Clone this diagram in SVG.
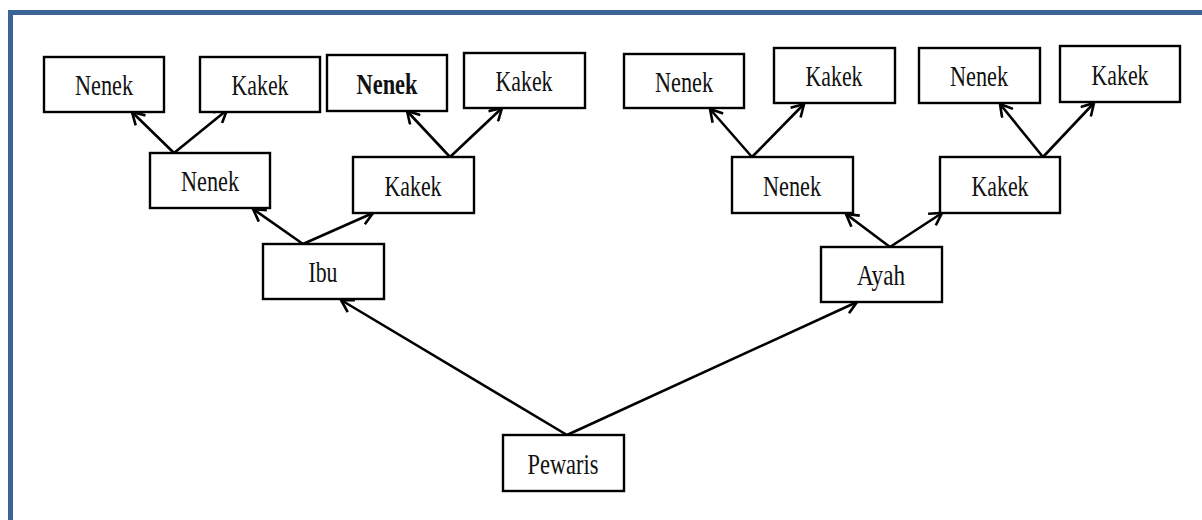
<svg xmlns="http://www.w3.org/2000/svg" width="1202" height="520" viewBox="0 0 1202 520">
<style>
.box{fill:#fff;stroke:#000;stroke-width:2.4}
.lbl{font-family:"Liberation Serif","Times New Roman",serif;font-size:30px;fill:#111;text-anchor:middle}
.b{font-weight:bold}
.con{stroke:#000;stroke-width:2.6;fill:none;marker-end:url(#arr)}
</style>
<defs>
<marker id="arr" viewBox="0 0 16 16" refX="14" refY="8" markerWidth="16" markerHeight="16" markerUnits="userSpaceOnUse" orient="auto">
<path d="M2,1 L14,8 L2,15" fill="none" stroke="#000" stroke-width="2.6"/>
</marker>
</defs>
<rect width="1202" height="520" fill="#fff"/>
<path d="M10.5,520 L10.5,12.5 L1202,12.5" fill="none" stroke="#3A6496" stroke-width="5"/>
<g id="connectors">
<line class="con" x1="174" y1="153" x2="132" y2="112"/>
<line class="con" x1="174" y1="153" x2="227" y2="110"/>
<line class="con" x1="450" y1="157" x2="407" y2="111"/>
<line class="con" x1="450" y1="157" x2="502" y2="108"/>
<line class="con" x1="752" y1="157" x2="710" y2="109"/>
<line class="con" x1="752" y1="157" x2="804" y2="104"/>
<line class="con" x1="1043" y1="157" x2="1000" y2="104"/>
<line class="con" x1="1043" y1="157" x2="1094" y2="103"/>
<line class="con" x1="303" y1="244" x2="253" y2="209"/>
<line class="con" x1="303" y1="244" x2="373" y2="213"/>
<line class="con" x1="890" y1="247" x2="846" y2="214"/>
<line class="con" x1="890" y1="247" x2="942" y2="213"/>
<line class="con" x1="567" y1="435" x2="341" y2="300"/>
<line class="con" x1="567" y1="435" x2="857" y2="302"/>
</g>
<g id="nenek1"><rect class="box" x="44" y="57" width="120" height="55"/><text class="lbl" x="104" y="95" textLength="58" lengthAdjust="spacingAndGlyphs">Nenek</text></g>
<g id="kakek1"><rect class="box" x="200" y="57" width="120" height="55"/><text class="lbl" x="260" y="95" textLength="57" lengthAdjust="spacingAndGlyphs">Kakek</text></g>
<g id="nenek2"><rect class="box" x="327" y="55" width="120" height="56"/><text class="lbl b" x="387" y="93.5" textLength="61" lengthAdjust="spacingAndGlyphs">Nenek</text></g>
<g id="kakek2"><rect class="box" x="464" y="53" width="121" height="55"/><text class="lbl" x="524" y="91" textLength="57" lengthAdjust="spacingAndGlyphs">Kakek</text></g>
<g id="nenek3"><rect class="box" x="624" y="54" width="120" height="54"/><text class="lbl" x="684" y="91.5" textLength="58" lengthAdjust="spacingAndGlyphs">Nenek</text></g>
<g id="kakek3"><rect class="box" x="774" y="48" width="121" height="55"/><text class="lbl" x="834" y="86" textLength="57" lengthAdjust="spacingAndGlyphs">Kakek</text></g>
<g id="nenek4"><rect class="box" x="919" y="48" width="121" height="55"/><text class="lbl" x="979" y="86" textLength="58" lengthAdjust="spacingAndGlyphs">Nenek</text></g>
<g id="kakek4"><rect class="box" x="1060" y="46" width="120" height="56"/><text class="lbl" x="1120" y="84.5" textLength="57" lengthAdjust="spacingAndGlyphs">Kakek</text></g>
<g id="nenekL"><rect class="box" x="150" y="153" width="120" height="55"/><text class="lbl" x="210" y="191" textLength="58" lengthAdjust="spacingAndGlyphs">Nenek</text></g>
<g id="kakekL"><rect class="box" x="353" y="157" width="121" height="56"/><text class="lbl" x="413" y="195.5" textLength="57" lengthAdjust="spacingAndGlyphs">Kakek</text></g>
<g id="nenekR"><rect class="box" x="732" y="157" width="121" height="56"/><text class="lbl" x="792" y="195.5" textLength="58" lengthAdjust="spacingAndGlyphs">Nenek</text></g>
<g id="kakekR"><rect class="box" x="940" y="157" width="120" height="56"/><text class="lbl" x="1000" y="195.5" textLength="57" lengthAdjust="spacingAndGlyphs">Kakek</text></g>
<g id="ibu"><rect class="box" x="263" y="244" width="121" height="55"/><text class="lbl" x="323" y="282" textLength="29" lengthAdjust="spacingAndGlyphs">Ibu</text></g>
<g id="ayah"><rect class="box" x="821" y="247" width="121" height="55"/><text class="lbl" x="881" y="285" textLength="48" lengthAdjust="spacingAndGlyphs">Ayah</text></g>
<g id="pewaris"><rect class="box" x="503" y="435" width="121" height="56"/><text class="lbl" x="563" y="474" textLength="71" lengthAdjust="spacingAndGlyphs">Pewaris</text></g>
</svg>
